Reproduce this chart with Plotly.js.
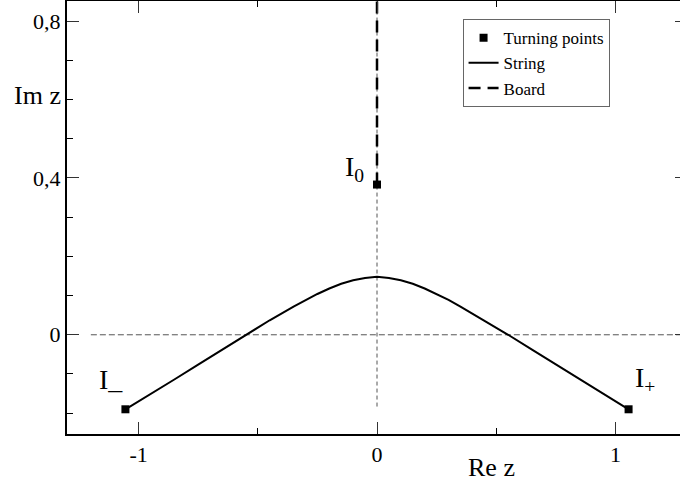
<!DOCTYPE html>
<html>
<head>
<meta charset="utf-8">
<script src="https://cdn.plot.ly/plotly-3.0.1.min.js"></script>
<style>
  html, body { margin: 0; padding: 0; overflow: hidden; background: #fff; }
  #chart { width: 690px; height: 482px; }
</style>
</head>
<body>
<div id="chart"></div>
<script>
// Turning points I_-, I_0, I_+
const turnX = [-1.055, 0, 1.055];
const turnY = [-0.19, 0.383, -0.19];

// String between I_- and I_+
const stringX = [-1.055, -0.95, -0.85, -0.75, -0.65, -0.55, -0.45, -0.35, -0.30, -0.25, -0.20, -0.15, -0.10, -0.05, 0,
                 0.05, 0.10, 0.15, 0.20, 0.25, 0.30, 0.35, 0.45, 0.55, 0.65, 0.75, 0.85, 0.95, 1.055];
const stringY = [-0.19, -0.152, -0.114, -0.076, -0.038, 0.0, 0.037, 0.072, 0.089, 0.104, 0.118, 0.130, 0.139, 0.145, 0.148,
                 0.145, 0.139, 0.130, 0.118, 0.104, 0.089, 0.072, 0.037, 0.0, -0.038, -0.076, -0.114, -0.152, -0.19];

// Board: from I_0 up to the top of the frame
const boardX = [0, 0];
const boardY = [0.383, 0.851];

// Dashed reference axes
const hRefX = [-1.2, 1.3];
const hRefY = [0, 0];
const vRefX = [0, 0];
const vRefY = [-0.183, 0.851];

// Tick labels
const xTickVals = [-1, 0, 1];
const xTickText = ['-1', '0', '1'];
const xMinorVals = [-0.5, 0.5];
const yTickVals = [0, 0.4, 0.8];
const yTickText = ['0', '0,4', '0,8'];
const yMinorVals = [-0.2, -0.1, 0.1, 0.2, 0.3, 0.5, 0.6, 0.7];

const serif = 'Liberation Serif, Times New Roman, serif';

const data = [
    {
        x: hRefX, y: hRefY, type: 'scatter', mode: 'lines',
        line: {color: '#555', width: 1, dash: '6px,3px'},
        showlegend: false, hoverinfo: 'skip'
    },
    {
        x: vRefX, y: vRefY, type: 'scatter', mode: 'lines',
        line: {color: '#555', width: 1, dash: '4px,3px'},
        showlegend: false, hoverinfo: 'skip'
    },
    {
        x: turnX, y: turnY, type: 'scatter', mode: 'markers', name: 'Turning points',
        marker: {symbol: 'square', size: 8, color: '#000'}
    },
    {
        x: stringX, y: stringY, type: 'scatter', mode: 'lines', name: 'String',
        line: {color: '#000', width: 2}
    },
    {
        x: boardX, y: boardY, type: 'scatter', mode: 'lines', name: 'Board',
        line: {color: '#000', width: 2.5, dash: '12px,7px'}
    }
];

const axisCommon = {
    showgrid: false,
    zeroline: false,
    showline: true,
    linecolor: '#000',
    linewidth: 2,
    mirror: 'ticks',
    ticks: 'inside',
    ticklen: 12,
    tickwidth: 1,
    tickcolor: '#333',
    tickfont: {family: serif, size: 22, color: '#000'}
};

const layout = {
    width: 690,
    height: 482,
    margin: {l: 67, r: 3, t: 1, b: 48},
    paper_bgcolor: '#fff',
    plot_bgcolor: '#fff',
    font: {family: serif, color: '#000'},
    xaxis: Object.assign({}, axisCommon, {
        range: [-1.3, 1.3],
        tickmode: 'array',
        tickvals: xTickVals,
        ticktext: xTickText,
        minor: {tickmode: 'array', tickvals: xMinorVals, ticks: 'inside', ticklen: 6, tickcolor: '#000', tickwidth: 1}
    }),
    yaxis: Object.assign({}, axisCommon, {
        range: [-0.253, 0.851],
        tickmode: 'array',
        tickvals: yTickVals,
        ticktext: yTickText,
        minor: {tickmode: 'array', tickvals: yMinorVals, ticks: 'inside', ticklen: 6, tickcolor: '#000', tickwidth: 1}
    }),
    showlegend: true,
    legend: {
        x: 0.638, y: 0.958, xanchor: 'left', yanchor: 'top',
        bgcolor: '#fff',
        bordercolor: '#666',
        borderwidth: 1,
        font: {family: serif, size: 17, color: '#000'},
        tracegroupgap: 0
    },
    annotations: [
        {xref: 'paper', yref: 'y', x: 0, y: 0.6, xanchor: 'right', yanchor: 'middle', xshift: -4, yshift: 4,
         text: 'Im z', showarrow: false, font: {family: serif, size: 26}},
        {xref: 'x', yref: 'paper', x: 0.48, y: 0, xanchor: 'center', yanchor: 'top', yshift: -17,
         text: 'Re z', showarrow: false, font: {family: serif, size: 26}},
        {x: -1.174, y: -0.114, xanchor: 'left', yanchor: 'middle',
         text: 'I_', showarrow: false, font: {family: serif, size: 28}},
        {x: 1.073, y: -0.114, xanchor: 'left', yanchor: 'middle',
         text: 'I<sub>+</sub>', showarrow: false, font: {family: serif, size: 28}},
        {x: -0.1426, y: 0.425, xanchor: 'left', yanchor: 'middle',
         text: 'I<sub>0</sub>', showarrow: false, font: {family: serif, size: 28}}
    ]
};

Plotly.newPlot('chart', data, layout, {staticPlot: true});
</script>
</body>
</html>
